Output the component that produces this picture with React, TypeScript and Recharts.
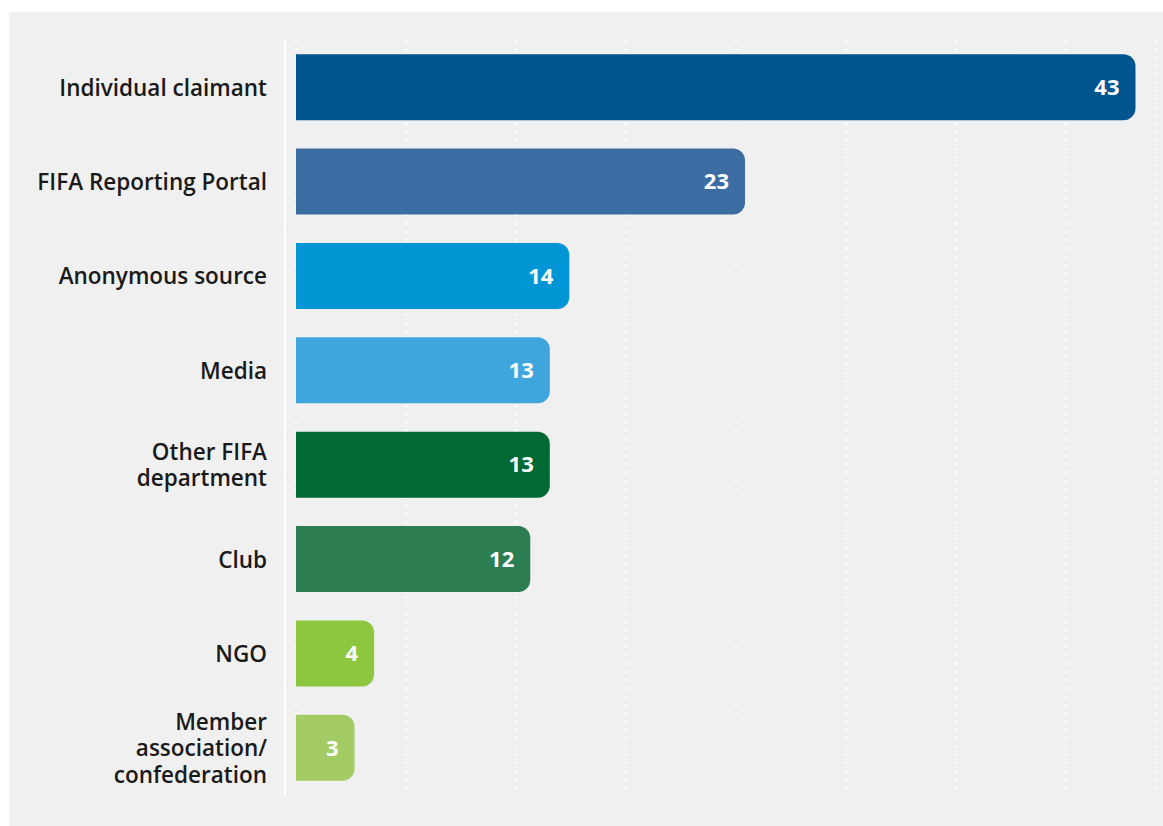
import { Bar, BarChart, CartesianGrid, Cell, LabelList, XAxis, YAxis } from "recharts";

const sources = [
  "Individual claimant",
  "FIFA Reporting Portal",
  "Anonymous source",
  "Media",
  "Other FIFA\ndepartment",
  "Club",
  "NGO",
  "Member\nassociation/\nconfederation",
];
const counts = [43, 23, 14, 13, 13, 12, 4, 3];
const barColors = [
  "#00558f",
  "#3b6ca2",
  "#0096d6",
  "#3fa6dd",
  "#006934",
  "#2c7d52",
  "#8dc63f",
  "#a3cd64",
];
// dotted guide lines, evenly spaced but not on round values
const gridTicks = [0, 5.64, 11.27, 16.91, 22.54, 28.18, 33.81, 39.45];

const data = sources.map((source, i) => ({ source, count: counts[i] }));

const FONT = "'Open Sans', 'Noto Sans', sans-serif";

function SourceTick({ x, y, payload }: { x?: number; y?: number; payload?: { value: string } }) {
  const lines = String(payload?.value ?? "").split("\n");
  const lineHeight = 26.5;
  const start = -((lines.length - 1) * lineHeight) / 2;
  return (
    <text
      x={x}
      y={y}
      textAnchor="end"
      fill="#1a1a1a"
      fontSize={22.5}
      fontWeight={600}
      fontFamily={FONT}
    >
      {lines.map((line, i) => (
        <tspan key={i} x={x} dy={i === 0 ? start : lineHeight} dominantBaseline="central">
          {line}
        </tspan>
      ))}
    </text>
  );
}

export default function App() {
  return (
    <div
      style={{
        position: "absolute",
        left: 9,
        top: 12,
        width: 1154,
        height: 814,
        background: "#f0f0f0",
      }}
    >
      <BarChart
        width={1154}
        height={814}
        data={data}
        layout="vertical"
        margin={{ top: 28, right: 8, bottom: 31, left: 0 }}
        barCategoryGap="15%"
      >
        <CartesianGrid
          horizontal={false}
          stroke="#ffffff"
          strokeWidth={2.5}
          strokeDasharray="2 6.3"
        />
        <XAxis
          type="number"
          domain={[0, 44]}
          ticks={gridTicks}
          padding={{ left: 11, right: 0 }}
          hide
        />
        <YAxis
          type="category"
          dataKey="source"
          width={276}
          axisLine={{ stroke: "#ffffff", strokeWidth: 2 }}
          tickLine={false}
          tickSize={0}
          tickMargin={18}
          tick={<SourceTick />}
          interval={0}
        />
        <Bar dataKey="count" radius={[0, 12, 12, 0]} isAnimationActive={false}>
          {data.map((d, i) => (
            <Cell key={d.source} fill={barColors[i]} />
          ))}
          <LabelList
            dataKey="count"
            position="insideRight"
            offset={16}
            fill="#ffffff"
            fontSize={22}
            fontWeight={700}
            fontFamily={FONT}
          />
        </Bar>
      </BarChart>
    </div>
  );
}
